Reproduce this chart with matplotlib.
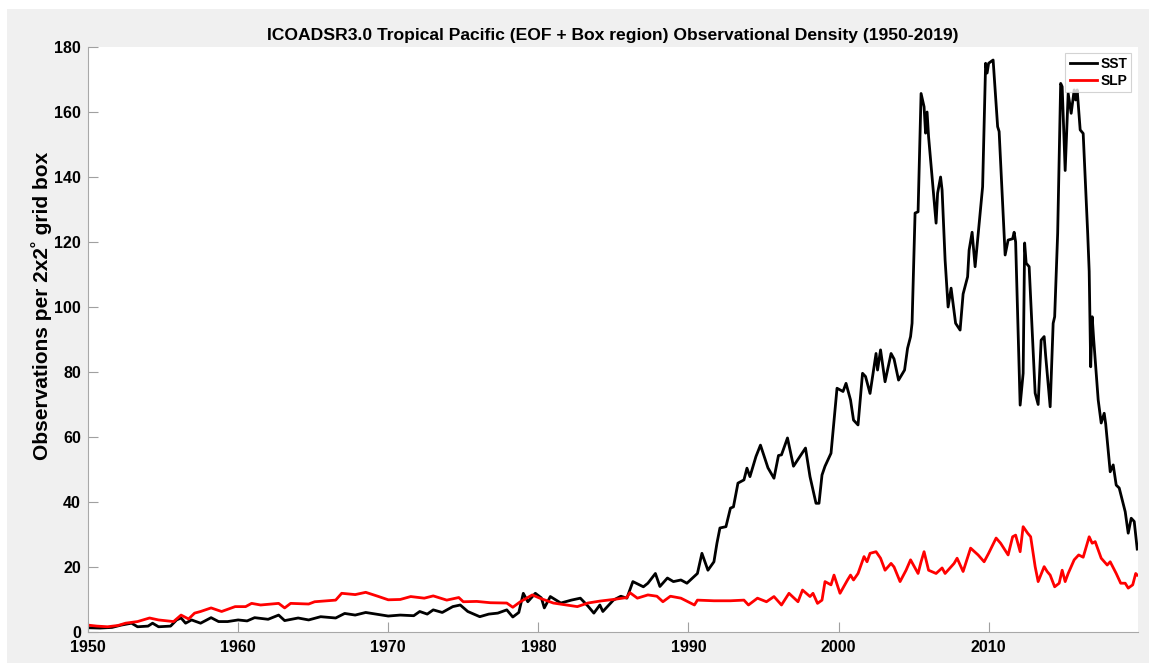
import matplotlib
matplotlib.use("Agg")
import matplotlib.pyplot as plt
from matplotlib.patches import Rectangle

plt.rcParams["font.family"] = ["Liberation Sans", "DejaVu Sans"]
plt.rcParams["font.weight"] = "bold"

# SST obs density (year, value)
sst_year = [1950.0, 1950.8, 1951.6, 1952.2, 1952.9, 1953.3, 1954.0, 1954.3, 1954.7, 1955.5,
            1955.9, 1956.2, 1956.5, 1956.9, 1957.5, 1958.2, 1958.7, 1959.3, 1960.0, 1960.6,
            1961.1, 1962.0, 1962.7, 1963.1, 1964.0, 1964.7, 1965.5, 1966.5, 1967.1, 1967.8,
            1968.5, 1969.3, 1970.0, 1970.8, 1971.7, 1972.1, 1972.6, 1973.0, 1973.6, 1974.3,
            1974.8, 1975.3, 1976.1, 1976.7, 1977.3, 1977.9, 1978.3, 1978.7, 1979.0, 1979.3,
            1979.8, 1980.2, 1980.4, 1980.8, 1981.5, 1982.2, 1982.8, 1983.3, 1983.7, 1984.1,
            1984.3, 1985.0, 1985.5, 1985.9, 1986.3, 1987.0, 1987.3, 1987.8, 1988.1, 1988.6,
            1989.0, 1989.5, 1989.9, 1990.6, 1990.9, 1991.3, 1991.7, 1991.9, 1992.1, 1992.5,
            1992.8, 1993.0, 1993.3, 1993.7, 1993.9, 1994.1, 1994.5, 1994.8, 1995.3, 1995.7,
            1996.0, 1996.2, 1996.6, 1997.0, 1997.8, 1998.1, 1998.5, 1998.7, 1998.9, 1999.1,
            1999.5, 1999.9, 2000.3, 2000.5, 2000.8, 2001.0, 2001.3, 2001.6, 2001.8, 2002.1,
            2002.5, 2002.6, 2002.8, 2003.1, 2003.5, 2003.7, 2004.0, 2004.4, 2004.6, 2004.8,
            2004.9, 2005.1, 2005.3, 2005.5, 2005.7, 2005.8, 2005.9, 2006.0, 2006.5, 2006.6,
            2006.8, 2006.9, 2007.1, 2007.3, 2007.5, 2007.8, 2008.1, 2008.3, 2008.6, 2008.7,
            2008.9, 2009.1, 2009.6, 2009.8, 2009.9, 2010.0, 2010.3, 2010.6, 2010.7, 2011.1,
            2011.3, 2011.6, 2011.7, 2011.8, 2012.1, 2012.3, 2012.4, 2012.5, 2012.7, 2013.1,
            2013.3, 2013.5, 2013.7, 2013.8, 2014.1, 2014.3, 2014.4, 2014.6, 2014.8, 2014.9,
            2015.1, 2015.3, 2015.5, 2015.7, 2015.8, 2015.9, 2016.1, 2016.3, 2016.6, 2016.7,
            2016.8, 2016.9, 2017.0, 2017.3, 2017.5, 2017.7, 2017.8, 2018.1, 2018.3, 2018.5,
            2018.7, 2019.1, 2019.3, 2019.5, 2019.7, 2019.9]
sst_val = [1.3, 1.2, 1.4, 2.1, 2.7, 1.6, 1.8, 2.7, 1.6, 1.8,
           3.7, 4.3, 2.7, 3.7, 2.7, 4.4, 3.2, 3.2, 3.7, 3.4,
           4.4, 3.9, 5.2, 3.5, 4.3, 3.7, 4.7, 4.3, 5.7, 5.2,
           6.0, 5.4, 4.9, 5.2, 5.0, 6.3, 5.5, 6.8, 6.0, 7.8,
           8.3, 6.3, 4.7, 5.5, 5.8, 6.8, 4.6, 6.0, 11.9, 9.3,
           11.9, 10.5, 7.4, 10.9, 8.9, 9.8, 10.4, 8.0, 5.8, 8.3,
           6.3, 9.8, 11.0, 10.4, 15.5, 13.9, 15.0, 18.0, 14.0, 16.6,
           15.5, 16.0, 15.0, 18.0, 24.2, 19.0, 21.6, 27.3, 32.0, 32.4,
           38.1, 38.5, 45.8, 46.8, 50.4, 47.8, 54.0, 57.5, 50.5, 47.3,
           54.3, 54.5, 59.7, 51.0, 56.6, 47.8, 39.6, 39.6, 48.3, 51.0,
           55.0, 75.0, 74.0, 76.5, 71.4, 65.2, 63.7, 79.6, 78.6, 73.4,
           85.7, 80.6, 86.8, 77.0, 85.7, 84.0, 77.5, 80.6, 87.3, 90.9,
           95.0, 128.9, 129.3, 165.7, 161.6, 153.5, 160.0, 152.4, 125.8, 135.0,
           140.0, 136.0, 114.5, 100.0, 105.8, 95.0, 92.9, 104.0, 109.3, 117.5,
           123.0, 112.4, 137.0, 175.0, 172.0, 175.0, 176.0, 155.5, 154.0, 116.0,
           120.6, 121.0, 123.0, 120.0, 69.8, 79.6, 119.7, 113.5, 112.4, 73.5,
           70.0, 89.8, 90.9, 85.0, 69.3, 95.0, 97.0, 122.7, 168.8, 167.8,
           142.0, 165.7, 159.6, 166.8, 163.7, 166.8, 154.5, 153.4, 122.7, 111.0,
           81.6, 97.0, 90.0, 71.4, 64.3, 67.3, 64.0, 49.3, 51.4, 45.2,
           44.3, 37.0, 30.4, 35.0, 34.0, 25.5]

# SLP obs density
slp_year = [1950.0, 1950.6, 1951.3, 1952.0, 1952.5, 1953.3, 1954.1, 1954.7, 1955.7, 1956.2,
            1956.7, 1957.1, 1957.5, 1958.2, 1958.9, 1959.8, 1960.5, 1960.9, 1961.5, 1962.7,
            1963.1, 1963.5, 1964.7, 1965.1, 1966.5, 1966.9, 1967.8, 1968.5, 1969.3, 1970.0,
            1970.8, 1971.5, 1972.4, 1973.0, 1973.9, 1974.7, 1975.0, 1975.9, 1976.8, 1977.9,
            1978.3, 1978.8, 1979.6, 1980.1, 1981.0, 1981.9, 1982.6, 1983.3, 1984.1, 1985.0,
            1985.9, 1986.1, 1986.6, 1987.3, 1987.9, 1988.3, 1988.8, 1989.5, 1990.4, 1990.6,
            1991.7, 1992.8, 1993.7, 1994.0, 1994.6, 1995.2, 1995.7, 1996.2, 1996.7, 1997.3,
            1997.6, 1998.1, 1998.3, 1998.6, 1998.9, 1999.1, 1999.5, 1999.7, 2000.1, 2000.6,
            2000.8, 2001.0, 2001.3, 2001.7, 2001.9, 2002.1, 2002.5, 2002.8, 2003.1, 2003.5,
            2003.7, 2004.1, 2004.5, 2004.8, 2005.3, 2005.5, 2005.7, 2006.0, 2006.5, 2006.9,
            2007.1, 2007.7, 2007.9, 2008.3, 2008.8, 2009.3, 2009.7, 2010.0, 2010.5, 2010.8,
            2011.3, 2011.6, 2011.8, 2012.1, 2012.3, 2012.6, 2012.8, 2013.1, 2013.3, 2013.7,
            2013.9, 2014.1, 2014.4, 2014.7, 2014.9, 2015.1, 2015.3, 2015.7, 2016.0, 2016.3,
            2016.7, 2016.9, 2017.1, 2017.5, 2017.9, 2018.1, 2018.5, 2018.8, 2019.1, 2019.3,
            2019.6, 2019.8, 2019.9]
slp_val = [2.1, 1.8, 1.6, 2.0, 2.7, 3.2, 4.3, 3.7, 3.2, 5.2,
           4.0, 5.8, 6.3, 7.4, 6.3, 7.8, 7.8, 8.8, 8.3, 8.8,
           7.4, 8.8, 8.6, 9.3, 9.8, 11.9, 11.5, 12.2, 11.0, 9.9,
           10.0, 10.9, 10.4, 11.1, 9.8, 10.6, 9.3, 9.4, 9.0, 8.9,
           7.6, 9.3, 11.4, 10.4, 8.9, 8.3, 7.8, 8.9, 9.5, 10.0,
           10.6, 12.1, 10.4, 11.4, 11.0, 9.3, 11.0, 10.4, 8.3, 9.8,
           9.6, 9.6, 9.8, 8.3, 10.4, 9.3, 10.9, 8.3, 11.9, 9.3,
           12.9, 10.9, 11.9, 8.8, 9.8, 15.5, 14.5, 17.5, 11.9, 16.0,
           17.5, 16.0, 18.0, 23.2, 21.6, 24.2, 24.7, 22.7, 19.0, 21.1,
           20.0, 15.5, 19.0, 22.2, 18.0, 21.6, 24.7, 19.0, 18.0, 19.7,
           18.0, 21.1, 22.7, 18.6, 25.8, 23.7, 21.6, 24.2, 28.9, 27.3,
           23.7, 29.3, 29.8, 24.7, 32.4, 30.4, 29.3, 20.1, 15.5, 20.1,
           18.6, 17.5, 13.9, 15.0, 19.0, 15.5, 18.0, 22.2, 23.7, 23.0,
           29.3, 27.3, 27.8, 22.7, 20.6, 21.6, 18.0, 15.0, 15.0, 13.5,
           14.5, 18.0, 17.5]

yticks = list(range(0, 181, 20))
xticks = list(range(1950, 2011, 10))

fig = plt.figure(figsize=(11.49, 6.66), dpi=100, facecolor="white")
# grey MATLAB-style figure panel
fig.patches.append(Rectangle((0.0061, 0.0045), 1.0, 0.982, transform=fig.transFigure,
                             facecolor="#f0f0f0", edgecolor="none", zorder=-1))

ax = fig.add_axes([0.0766, 0.0511, 0.9138, 0.8783])
ax.set_facecolor("white")
ax.plot(sst_year, sst_val, color="black", lw=2, label="SST")
ax.plot(slp_year, slp_val, color="red", lw=2, label="SLP")

ax.set_xlim(1950, 2019.95)
ax.set_ylim(0, 180)
ax.set_xticks(xticks)
ax.set_yticks(yticks)
ax.tick_params(direction="in", length=7, width=0.8, color="#a0a0a0", labelsize=11.5)
ax.tick_params(axis="x", pad=6)
ax.tick_params(axis="y", pad=5)
for lab in ax.get_xticklabels() + ax.get_yticklabels():
    lab.set_fontweight("bold")
for s in ["top", "right"]:
    ax.spines[s].set_visible(False)
for s in ["left", "bottom"]:
    ax.spines[s].set_color("#a8a8a8")
    ax.spines[s].set_linewidth(0.8)

ax.set_title("ICOADSR3.0 Tropical Pacific (EOF + Box region) Observational Density (1950-2019)",
             fontsize=12.6, fontweight="bold", pad=5)
ax.set_ylabel("Observations per 2x2\u02da grid box", fontsize=15, fontweight="bold")
ax.yaxis.set_label_coords(-0.034, 0.557)

leg = ax.legend(loc="upper right", bbox_to_anchor=(0.9935, 0.99), fontsize=10,
                frameon=True, fancybox=False, handlelength=2.0, handletextpad=0.2,
                borderpad=0.3, labelspacing=0.2, borderaxespad=0)
leg.get_frame().set_edgecolor("#c8c8c8")
leg.get_frame().set_linewidth(0.8)
for t in leg.get_texts():
    t.set_fontweight("bold")

fig.savefig("out.png", dpi=100, facecolor=fig.get_facecolor())
